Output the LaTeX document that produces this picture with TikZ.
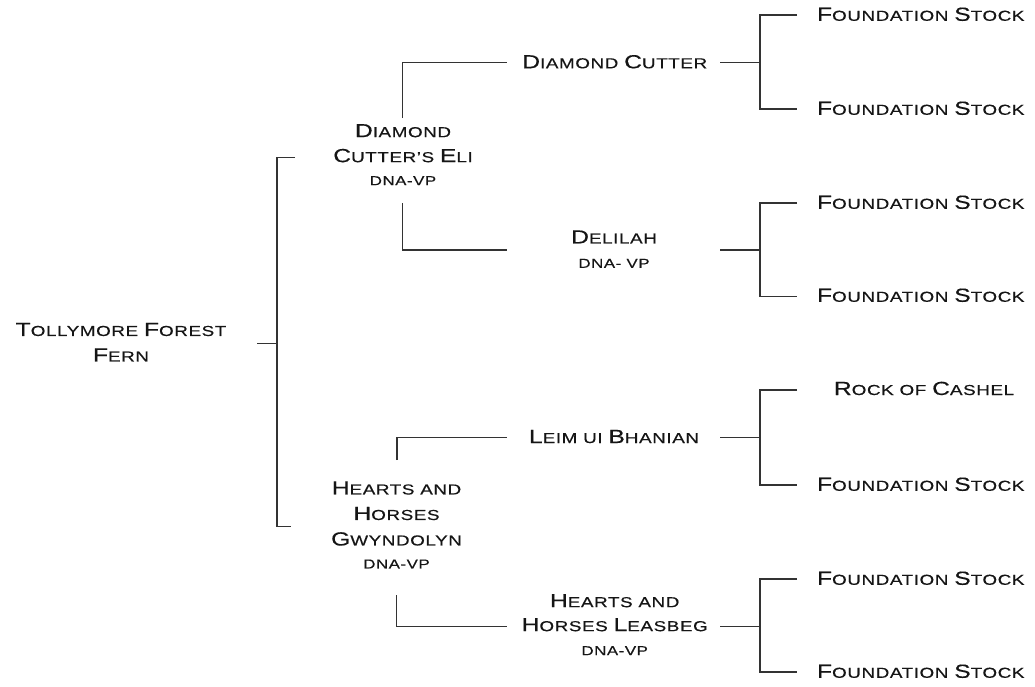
\documentclass[tikz,border=0pt]{standalone}
\usepackage{fontspec}
\setmainfont{Liberation Sans}[FakeStretch=1.3,LetterSpace=4,FakeBold=0.4]
\newcommand\Bg[1]{{\fontsize{19}{25}\selectfont #1}}
\newcommand\Dn[1]{{\fontsize{13}{23}\selectfont #1}}
\definecolor{txt}{HTML}{151515}
\definecolor{ln}{HTML}{333333}
\tikzset{
  lbl/.style={inner sep=0pt, outer sep=0pt, text=txt, font=\fontsize{14.5}{25.5}\selectfont, align=center},
  conn/.style={draw=ln, line width=1.3pt, line cap=butt, line join=miter}
}
\begin{document}
\begin{tikzpicture}[x=1pt,y=-1pt]
\useasboundingbox (0,0) rectangle (1035,686);
% people
\node[lbl,anchor=north] (root) at (121,322.9) {\Bg{T}OLLYMORE \Bg{F}OREST\\\Bg{F}ERN};
\node[lbl,anchor=north,font=\fontsize{14.5}{25}\selectfont] (eli) at (403,124.1) {\Bg{D}IAMOND\\\Bg{C}UTTER'S \Bg{E}LI\\[-2pt]\Dn{DNA-VP}};
\node[lbl,anchor=base] (dc) at (614.7,68.3) {\Bg{D}IAMOND \Bg{C}UTTER};
\node[lbl,anchor=north,font=\fontsize{14.5}{24.3}\selectfont] (del) at (614,230.4) {\Bg{D}ELILAH\\\Dn{DNA- VP}};
\node[lbl,anchor=north] (gwy) at (396.5,481.4) {\Bg{H}EARTS AND\\\Bg{H}ORSES\\\Bg{G}WYNDOLYN\\[-2.5pt]\Dn{DNA-VP}};
\node[lbl,anchor=base] (leim) at (614,443) {\Bg{L}EIM UI \Bg{B}HANIAN};
\node[lbl,anchor=north,font=\fontsize{14.5}{24}\selectfont] (lea) at (614.7,594.1) {\Bg{H}EARTS AND\\\Bg{H}ORSES \Bg{L}EASBEG\\\Dn{DNA-VP}};
\node[lbl,anchor=base west] (f1) at (817,20.8) {\Bg{F}OUNDATION \Bg{S}TOCK};
\node[lbl,anchor=base west] (f2) at (817,114.8) {\Bg{F}OUNDATION \Bg{S}TOCK};
\node[lbl,anchor=base west] (f3) at (817,208.8) {\Bg{F}OUNDATION \Bg{S}TOCK};
\node[lbl,anchor=base west] (f4) at (817,301.8) {\Bg{F}OUNDATION \Bg{S}TOCK};
\node[lbl,anchor=base] (rc) at (924,395) {\Bg{R}OCK OF \Bg{C}ASHEL};
\node[lbl,anchor=base west] (f6) at (817,490.8) {\Bg{F}OUNDATION \Bg{S}TOCK};
\node[lbl,anchor=base west] (f7) at (817,584.8) {\Bg{F}OUNDATION \Bg{S}TOCK};
\node[lbl,anchor=base west] (f8) at (817,677.8) {\Bg{F}OUNDATION \Bg{S}TOCK};
% junction coordinates
\coordinate (r0) at (257,343.5);
\coordinate (r1) at (277,343.5);
\coordinate (rt) at (277,157.5);
\coordinate (rb) at (277,526.5);
\coordinate (rte) at (295,157.5);
\coordinate (rbe) at (291,526.5);
\coordinate (e1) at (402.5,118);
\coordinate (e2) at (402.5,62.5);
\coordinate (e3) at (507,62.5);
\coordinate (e4) at (402.5,203);
\coordinate (e5) at (402.5,250);
\coordinate (e6) at (507,250);
\coordinate (g1) at (397,460);
\coordinate (g2) at (397,437.5);
\coordinate (g3) at (507,437.5);
\coordinate (g4) at (396.5,595);
\coordinate (g5) at (396.5,626.5);
\coordinate (g6) at (507,626.5);
% root bracket
\draw[conn] (r0) -- (r1);
\draw[conn] (rte) -- (rt) -- (rb) -- (rbe);
% second generation
\draw[conn] (e1) -- (e2) -- (e3);
\draw[conn] (e4) -- (e5) -- (e6);
\draw[conn] (g1) -- (g2) -- (g3);
\draw[conn] (g4) -- (g5) -- (g6);
% third generation brackets
\foreach \n/\a/\b/\c in {dc/62.5/15/109, del/250/203/296.5, leim/437.5/390/485, lea/626.5/579/672}{
  \coordinate (\n-s) at (720,\a);
  \coordinate (\n-j) at (760,\a);
  \coordinate (\n-t) at (760,\b);
  \coordinate (\n-b) at (760,\c);
  \coordinate (\n-te) at (797,\b);
  \coordinate (\n-be) at (797,\c);
  \draw[conn] (\n-s) -- (\n-j);
  \draw[conn] (\n-te) -- (\n-t) -- (\n-b) -- (\n-be);
}
\end{tikzpicture}
\end{document}
